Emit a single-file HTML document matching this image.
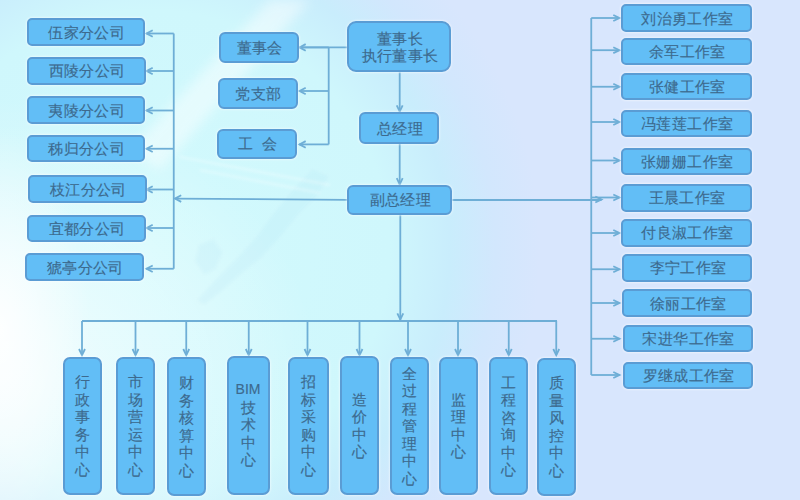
<!DOCTYPE html>
<html><head><meta charset="utf-8">
<style>
html,body{margin:0;padding:0;width:800px;height:500px;overflow:hidden}
body{position:relative;font-family:"Liberation Sans",sans-serif;
background:
radial-gradient(ellipse 90px 200px at 0px 330px, rgba(255,255,255,0.9), rgba(255,255,255,0) 100%),
radial-gradient(ellipse 320px 280px at 0px 380px, rgba(255,255,255,0.75), rgba(255,255,255,0) 100%),
radial-gradient(circle at 150px 250px,#d2fafd 0px,#cff7fc 240px,#c9edfc 300px,#d2e7fd 345px,#d8e6fd 390px,#d8e6fd 1000px);}
.bg{position:absolute;left:0;top:0;width:800px;height:500px}
.b{position:absolute;box-sizing:border-box;background:#62bef6;border:2px solid #5a9cd4;box-shadow:0 0 2px 1px rgba(255,255,255,0.45);color:#3d6a8e;
display:flex;align-items:center;justify-content:center;text-align:center;font-size:15px;line-height:17px;font-weight:400;-webkit-text-stroke:0.15px #3d6a8e}
.b.h span,.b.h2 span{letter-spacing:0.35px;padding-left:1.6px}
.b.v span{display:block;width:1em;line-height:17.5px;word-break:break-all}
.bim{font-style:normal;display:block;width:3em;margin-left:-1em;font-size:14px}
</style></head><body>
<div class="bg"></div>
<svg width="800" height="500" style="position:absolute;left:0;top:0"><defs><filter id="bl" x="-50%" y="-50%" width="200%" height="200%"><feGaussianBlur stdDeviation="6"/></filter><filter id="bl2" x="-50%" y="-50%" width="200%" height="200%"><feGaussianBlur stdDeviation="1.5"/></filter></defs><g filter="url(#bl)" fill="#ffffff" opacity="0.45"><path d="M130,150 L270,0 L310,0 L160,170 Z"/></g><g filter="url(#bl2)" fill="#8cc8e6" opacity="0.08" stroke="#ffffff" stroke-width="1.5" stroke-opacity="0.6"><path d="M312,168 L330,176 L318,196 L300,214 L282,236 L262,258 L240,276 L222,292 L204,306 L196,300 L214,280 L236,258 L256,236 L272,214 L290,192 Z"/><path d="M198,244 L214,238 L224,252 L216,270 L204,276 L194,262 Z"/></g><g filter="url(#bl2)" stroke="#ffffff" stroke-width="2" opacity="0.35" fill="none"><path d="M180,157 L330,185"/><path d="M200,170 L320,193"/></g><g stroke="#6eaed6" stroke-width="1.8" fill="none" stroke-linecap="butt"><line x1="173.75" y1="33.5" x2="173.75" y2="268.75"/><line x1="146" y1="33.5" x2="173.75" y2="33.5"/><line x1="146" y1="71" x2="173.75" y2="71"/><line x1="146" y1="110.5" x2="173.75" y2="110.5"/><line x1="146" y1="148.75" x2="173.75" y2="148.75"/><line x1="146" y1="189.5" x2="173.75" y2="189.5"/><line x1="146" y1="228" x2="173.75" y2="228"/><line x1="146" y1="268.75" x2="173.75" y2="268.75"/><line x1="175" y1="198.6" x2="347.5" y2="199.8"/><line x1="328.7" y1="47" x2="328.7" y2="144.4"/><line x1="300" y1="47.4" x2="348" y2="47.4"/><line x1="299" y1="47.4" x2="328.7" y2="47.4"/><line x1="299" y1="91" x2="328.7" y2="91"/><line x1="299" y1="144.4" x2="328.7" y2="144.4"/><line x1="399.7" y1="72.4" x2="399.7" y2="112"/><line x1="399.7" y1="143.7" x2="399.7" y2="184.8"/><line x1="400.3" y1="215.2" x2="400.3" y2="320"/><line x1="82" y1="321" x2="557" y2="321"/><line x1="82" y1="321" x2="82" y2="355"/><line x1="135.5" y1="321" x2="135.5" y2="355"/><line x1="186.25" y1="321" x2="186.25" y2="355"/><line x1="248.75" y1="321" x2="248.75" y2="355"/><line x1="307.5" y1="321" x2="307.5" y2="355"/><line x1="359.5" y1="321" x2="359.5" y2="355"/><line x1="408" y1="321" x2="408" y2="355"/><line x1="458" y1="321" x2="458" y2="355"/><line x1="508.75" y1="321" x2="508.75" y2="355"/><line x1="556.25" y1="321" x2="556.25" y2="355"/><line x1="591.25" y1="18" x2="591.25" y2="375"/><line x1="591.25" y1="18" x2="619.5" y2="18"/><line x1="591.25" y1="50.2" x2="619.5" y2="50.2"/><line x1="591.25" y1="86.75" x2="619.5" y2="86.75"/><line x1="591.25" y1="122" x2="619.5" y2="122"/><line x1="591.25" y1="160.5" x2="619.5" y2="160.5"/><line x1="591.25" y1="197.5" x2="619.5" y2="197.5"/><line x1="591.25" y1="233" x2="619.5" y2="233"/><line x1="591.25" y1="269.25" x2="619.5" y2="269.25"/><line x1="591.25" y1="303" x2="619.5" y2="303"/><line x1="591.25" y1="338.75" x2="619.5" y2="338.75"/><line x1="591.25" y1="375" x2="619.5" y2="375"/><line x1="452.3" y1="200" x2="601.5" y2="200"/><path d="M152.7,30.2 L146.5,33.5 L152.7,36.8"/><path d="M152.7,67.7 L146.5,71 L152.7,74.3"/><path d="M152.7,107.2 L146.5,110.5 L152.7,113.8"/><path d="M152.7,145.45 L146.5,148.75 L152.7,152.05"/><path d="M152.7,186.2 L146.5,189.5 L152.7,192.8"/><path d="M152.7,224.7 L146.5,228 L152.7,231.3"/><path d="M152.7,265.45 L146.5,268.75 L152.7,272.05"/><path d="M181.2,195.29999999999998 L175,198.6 L181.2,201.9"/><path d="M305.7,44.1 L299.5,47.4 L305.7,50.699999999999996"/><path d="M305.7,87.7 L299.5,91 L305.7,94.3"/><path d="M305.7,141.1 L299.5,144.4 L305.7,147.70000000000002"/><path d="M396.72999999999996,105.3 L399.7,111.5 L402.67,105.3"/><path d="M396.72999999999996,178.10000000000002 L399.7,184.3 L402.67,178.10000000000002"/><path d="M397.33,313.3 L400.3,319.5 L403.27000000000004,313.3"/><path d="M79.03,349.0 L82,355.2 L84.97,349.0"/><path d="M132.53,349.0 L135.5,355.2 L138.47,349.0"/><path d="M183.28,349.0 L186.25,355.2 L189.22,349.0"/><path d="M245.78,349.0 L248.75,355.2 L251.72,349.0"/><path d="M304.53,349.0 L307.5,355.2 L310.47,349.0"/><path d="M356.53,349.0 L359.5,355.2 L362.47,349.0"/><path d="M405.03,349.0 L408,355.2 L410.97,349.0"/><path d="M455.03,349.0 L458,355.2 L460.97,349.0"/><path d="M505.78,349.0 L508.75,355.2 L511.72,349.0"/><path d="M553.28,349.0 L556.25,355.2 L559.22,349.0"/><path d="M613.3,15.030000000000001 L619.5,18 L613.3,20.97"/><path d="M613.3,47.230000000000004 L619.5,50.2 L613.3,53.17"/><path d="M613.3,83.78 L619.5,86.75 L613.3,89.72"/><path d="M613.3,119.03 L619.5,122 L613.3,124.97"/><path d="M613.3,157.53 L619.5,160.5 L613.3,163.47"/><path d="M613.3,194.53 L619.5,197.5 L613.3,200.47"/><path d="M613.3,230.03 L619.5,233 L613.3,235.97"/><path d="M613.3,266.28 L619.5,269.25 L613.3,272.22"/><path d="M613.3,300.03 L619.5,303 L613.3,305.97"/><path d="M613.3,335.78 L619.5,338.75 L613.3,341.72"/><path d="M613.3,372.03 L619.5,375 L613.3,377.97"/><path d="M595.3,196.53 L601.5,199.5 L595.3,202.47"/></g></svg>
<div class="b h" style="left:26.5px;top:18px;width:118.5px;height:28px;border-radius:5px"><span>伍家分公司</span></div><div class="b h" style="left:27px;top:57px;width:118.5px;height:27.5px;border-radius:5px"><span>西陵分公司</span></div><div class="b h" style="left:27px;top:96px;width:118px;height:28px;border-radius:5px"><span>夷陵分公司</span></div><div class="b h" style="left:27px;top:134.5px;width:118px;height:27.5px;border-radius:5px"><span>秭归分公司</span></div><div class="b h" style="left:28px;top:175.3px;width:119px;height:27.5px;border-radius:5px"><span>枝江分公司</span></div><div class="b h" style="left:27px;top:214.5px;width:118.5px;height:27.5px;border-radius:5px"><span>宜都分公司</span></div><div class="b h" style="left:25px;top:253px;width:119px;height:28px;border-radius:5px"><span>猇亭分公司</span></div><div class="b h" style="left:218.5px;top:31.5px;width:80.5px;height:31.2px;border-radius:6px"><span>董事会</span></div><div class="b h" style="left:217.6px;top:78.4px;width:80px;height:30.6px;border-radius:6px"><span>党支部</span></div><div class="b h" style="left:217px;top:128.6px;width:80px;height:30.8px;border-radius:6px"><span>工&nbsp;&nbsp;会</span></div><div class="b h" style="left:359.1px;top:112.4px;width:80.2px;height:31.3px;border-radius:6px"><span>总经理</span></div><div class="b h" style="left:347px;top:184.8px;width:105.3px;height:30.4px;border-radius:6px"><span>副总经理</span></div><div class="b h2" style="left:347.3px;top:20.8px;width:103.7px;height:51.6px;border-radius:9px"><span>董事长<br>执行董事长</span></div><div class="b h" style="left:621.25px;top:4.2px;width:130.75px;height:27.8px;border-radius:5px"><span>刘治勇工作室</span></div><div class="b h" style="left:621.25px;top:37.5px;width:130.75px;height:27.8px;border-radius:5px"><span>余军工作室</span></div><div class="b h" style="left:621px;top:72.7px;width:131px;height:27.8px;border-radius:5px"><span>张健工作室</span></div><div class="b h" style="left:621px;top:109.7px;width:130.75px;height:27.8px;border-radius:5px"><span>冯莲莲工作室</span></div><div class="b h" style="left:621px;top:147.7px;width:130.75px;height:27.8px;border-radius:5px"><span>张姗姗工作室</span></div><div class="b h" style="left:620.75px;top:183.95px;width:131.0px;height:27.8px;border-radius:5px"><span>王晨工作室</span></div><div class="b h" style="left:621.25px;top:218.95px;width:130.5px;height:27.8px;border-radius:5px"><span>付良淑工作室</span></div><div class="b h" style="left:621.8px;top:253.95px;width:130.70000000000005px;height:27.8px;border-radius:5px"><span>李宁工作室</span></div><div class="b h" style="left:622.3px;top:289.2px;width:130.20000000000005px;height:27.8px;border-radius:5px"><span>徐丽工作室</span></div><div class="b h" style="left:622.5px;top:324.7px;width:130.5px;height:27.8px;border-radius:5px"><span>宋进华工作室</span></div><div class="b h" style="left:623px;top:361.7px;width:130px;height:27.8px;border-radius:5px"><span>罗继成工作室</span></div><div class="b v" style="left:63.25px;top:356.5px;width:38.75px;height:138.4px;border-radius:7px"><span>行政事务中心</span></div><div class="b v" style="left:116px;top:356.5px;width:38.5px;height:138.65px;border-radius:7px"><span>市场营运中心</span></div><div class="b v" style="left:167.25px;top:357.25px;width:39px;height:138.9px;border-radius:7px"><span>财务核算中心</span></div><div class="b v" style="left:227px;top:355.75px;width:43px;height:138.9px;border-radius:7px"><span><i class=bim>BIM</i>技术中心</span></div><div class="b v" style="left:288px;top:356.5px;width:41.25px;height:138.9px;border-radius:7px"><span>招标采购中心</span></div><div class="b v" style="left:340px;top:356.25px;width:38.75px;height:138.9px;border-radius:7px"><span>造价中心</span></div><div class="b v" style="left:389.9px;top:357px;width:38.85px;height:137.9px;border-radius:7px"><span>全过程管理中心</span></div><div class="b v" style="left:439.25px;top:357px;width:38.25px;height:137.9px;border-radius:7px"><span>监理中心</span></div><div class="b v" style="left:489.25px;top:357px;width:38.75px;height:138.4px;border-radius:7px"><span>工程咨询中心</span></div><div class="b v" style="left:537.25px;top:357.5px;width:38.25px;height:138.4px;border-radius:7px"><span>质量风控中心</span></div>
</body></html>
